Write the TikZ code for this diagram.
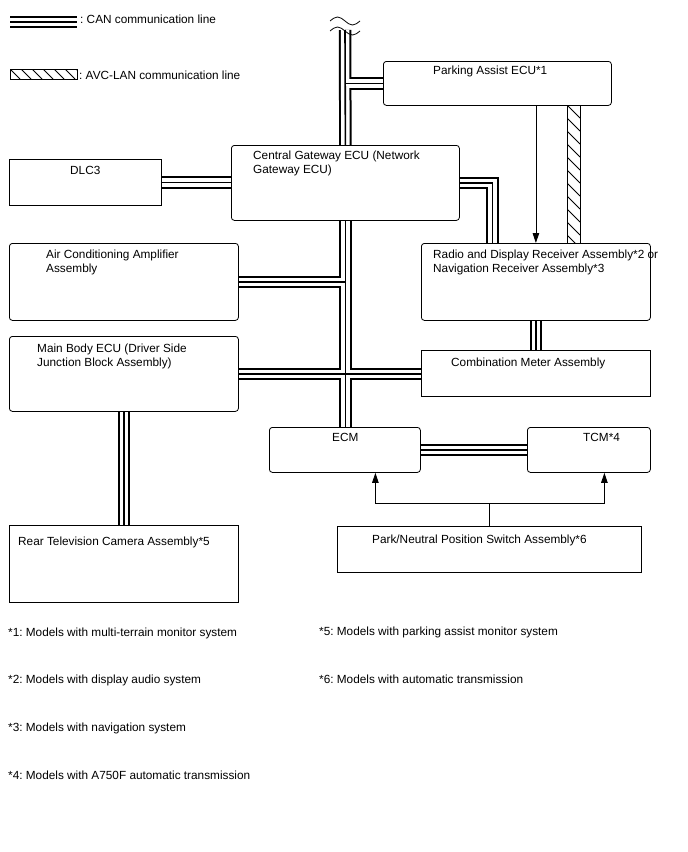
\documentclass[tikz,border=0pt]{standalone}
\usepackage{fontspec}
\setmainfont{Liberation Sans}
\usetikzlibrary{arrows.meta,positioning,calc,backgrounds}
\frenchspacing

\tikzset{
  ecu/.style={draw, line width=0.8bp, rounded corners=3bp, anchor=north west, inner sep=0pt},
  ecusq/.style={ecu, sharp corners},
  txt/.style={anchor=base west, inner sep=0pt, align=left, font=\fontsize{11.8bp}{14bp}\selectfont},
  canouter/.style={line width=12.5bp, black},
  caninner/.style={line width=8.5bp, white},
  cancore/.style={line width=1.6bp, black},
  avclan/.style={draw, line width=0.8bp},
  hatch/.style={line width=0.8bp},
  sig/.style={line width=0.8bp},
  sigarrow/.style={sig, -{Triangle[length=10bp,width=6.5bp]}},
  breakmark/.style={line width=0.8bp}
}

\begin{document}
\begin{tikzpicture}[x=1bp, y=-1bp]
  \useasboundingbox (0,0) rectangle (688,852);

  % ECUs
  \node[ecu, minimum width=228bp, minimum height=44bp] (pa) at (383,61) {};
  \node[ecusq, minimum width=152bp, minimum height=46bp] (dlc) at (9,159) {};
  \node[ecu, minimum width=228bp, minimum height=75bp] (cgw) at (231,145) {};
  \node[ecu, minimum width=229bp, minimum height=77bp] (ac) at (9,243) {};
  \node[ecu, minimum width=229bp, minimum height=77bp] (radio) at (421,243) {};
  \node[ecu, minimum width=229bp, minimum height=75bp] (mb) at (9,336) {};
  \node[ecusq, minimum width=229bp, minimum height=46bp] (meter) at (421,350) {};
  \node[ecu, minimum width=151bp, minimum height=45bp] (ecm) at (269,427) {};
  \node[ecu, minimum width=123bp, minimum height=45bp] (tcm) at (527,427) {};
  \node[ecusq, minimum width=304bp, minimum height=46bp] (pns) at (337,526) {};
  \node[ecusq, minimum width=229bp, minimum height=77bp] (rtv) at (9,525) {};

  % labels (two-line ones sit on their last baseline)
  \node[txt] (pa-t) at ([shift={(50,13)}]pa.north west) {Parking Assist ECU*1};
  \node[txt] (dlc-t) at ([shift={(61,15)}]dlc.north west) {DLC3};
  \node[txt] (cgw-t) at ([shift={(22,28)}]cgw.north west) {Central Gateway ECU (Network\\Gateway ECU)};
  \node[txt] (ac-t) at ([shift={(37,29)}]ac.north west) {Air Conditioning Amplifier\\Assembly};
  \node[txt] (radio-t) at ([shift={(12,29)}]radio.north west) {Radio and Display Receiver Assembly*2 or\\Navigation Receiver Assembly*3};
  \node[txt] (mb-t) at ([shift={(28,30)}]mb.north west) {Main Body ECU (Driver Side\\Junction Block Assembly)};
  \node[txt] (meter-t) at ([shift={(30,16)}]meter.north west) {Combination Meter Assembly};
  \node[txt] (ecm-t) at ([shift={(63,14)}]ecm.north west) {ECM};
  \node[txt] (tcm-t) at ([shift={(56,14)}]tcm.north west) {TCM*4};
  \node[txt] (pns-t) at ([shift={(35,17)}]pns.north west) {Park/Neutral Position Switch Assembly*6};
  \node[txt] (rtv-t) at ([shift={(9,20)}]rtv.north west) {Rear Television Camera Assembly*5};

  % CAN bus
  \coordinate (bustop) at (345,30);
  \coordinate (canl) at (10,22);
  \coordinate (canr) at (77,22);
  \begin{scope}[on background layer]
    \foreach \lay in {canouter,caninner,cancore}{
      \draw[\lay] (canl) -- (canr);
      \draw[\lay] (bustop) -- (cgw.north);
      \draw[\lay] (pa.west) -- (pa.west -| bustop);
      \draw[\lay] (dlc.east) -- (dlc.east -| cgw.west);
      \draw[\lay] (cgw.east) -| ([xshift=-43.5bp]radio.north);
      \draw[\lay] (cgw.south) -- (cgw.south |- ecm.north);
      \draw[\lay] (ac.east) -- (ac.east -| cgw.south);
      \draw[\lay] (mb.east) -- (mb.east -| meter.west);
      \draw[\lay] (radio.south) -- (meter.north);
      \draw[\lay] (ecm.east) -- (tcm.west);
      \draw[\lay] (mb.south) -- (rtv.north);
    }
  \end{scope}
  \draw[breakmark] (330,21) sin (337.5,17) cos (345,21) sin (352.5,25) cos (360,21);
  \draw[breakmark] (330,31) sin (337.5,27) cos (345,31) sin (352.5,35) cos (360,31);

  % AVC-LAN
  \coordinate (avcx) at (573.5,0);
  \draw[avclan] ($(avcx |- pa.south)+(-6.5,0)$) rectangle ($(avcx |- radio.north)+(6.5,0)$);
  \begin{scope}
    \clip ($(avcx |- pa.south)+(-6.5,0)$) rectangle ($(avcx |- radio.north)+(6.5,0)$);
    \foreach \k in {-1,...,11}
      \draw[hatch] (567,105+\k*13) -- ++(13,13);
  \end{scope}
  \draw[avclan] (10,69) rectangle (77,79);
  \begin{scope}
    \clip (10,69) rectangle (77,79);
    \foreach \k in {-1,...,6}
      \draw[hatch] (10+\k*11,69) -- ++(10,10);
  \end{scope}

  % legend
  \node[txt] (can-t) at (80,23) {: CAN communication line};
  \node[txt] (avc-t) at (79,79) {: AVC-LAN communication line};

  % other lines
  \draw[sigarrow] (radio.north |- pa.south) -- (radio.north);
  \draw[sig] (pns.north) -- ++(0,-23) coordinate (pnsj);
  \draw[sigarrow] (pnsj) -| ([xshift=30.5bp]ecm.south);
  \draw[sigarrow] (pnsj) -| ([xshift=15.5bp]tcm.south);

  % notes
  \node[txt] (n1) at (8,636) {*1: Models with multi-terrain monitor system};
  \node[txt] (n2) at (8,683) {*2: Models with display audio system};
  \node[txt] (n3) at (8,731) {*3: Models with navigation system};
  \node[txt] (n4) at (8,779) {*4: Models with A750F automatic transmission};
  \node[txt] (n5) at (319,635) {*5: Models with parking assist monitor system};
  \node[txt] (n6) at (319,683) {*6: Models with automatic transmission};
\end{tikzpicture}
\end{document}
